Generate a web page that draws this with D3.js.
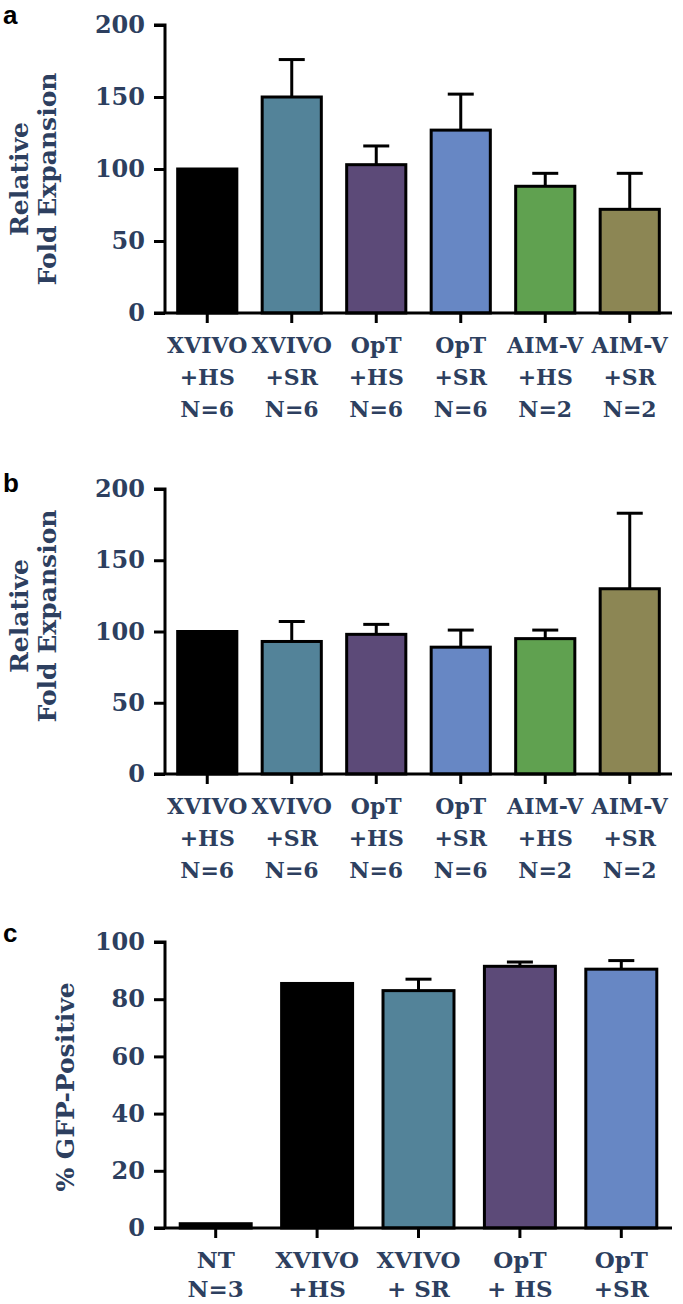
<!DOCTYPE html>
<html><head><meta charset="utf-8">
<script src="https://cdn.jsdelivr.net/npm/d3@7"></script>
<style>body{margin:0;background:#fff}svg{display:block}</style>
</head><body>
<script>
// ---- data ----
const catsAB = [["XVIVO","+HS","N=6"],["XVIVO","+SR","N=6"],["OpT","+HS","N=6"],["OpT","+SR","N=6"],["AIM-V","+HS","N=2"],["AIM-V","+SR","N=2"]];
const colorsAB = ["#000000","#538399","#5c4a78","#6787c4","#60a150","#8c8654"];
const valuesA = [100,150,103,127,88,72];
const errTopA = [100,176,116,152,97,97];
const valuesB = [100,93,98,89,95,130];
const errTopB = [100,107,105,101,101,183];
const catsC = [["NT","N=3"],["XVIVO","+HS"],["XVIVO","+ SR"],["OpT","+ HS"],["OpT","+SR"]];
const colorsC = ["#000000","#000000","#538399","#5c4a78","#6787c4"];
const valuesC = [1.5,85.5,83,91.5,90.5];
const errTopC = [1.5,85.5,87,93,93.5];
const ticksAB = [0,50,100,150,200];
const ticksC = [0,20,40,60,80,100];

const W=683,H=1304;
const navy="#2d3f5f";
const serif="'DejaVu Serif', serif";
const svg=d3.select("body").append("svg").attr("width",W).attr("height",H);

function panel(o){
  const g=svg.append("g");
  const x=d3.scaleBand().domain(d3.range(o.cats.length)).range([165,672]).paddingInner(o.pad).paddingOuter(o.pad/2);
  const y=d3.scaleLinear().domain([0,o.max]).range([o.y0,o.y1]);
  g.selectAll("rect.bar").data(o.values).join("rect")
    .attr("x",(d,i)=>x(i)).attr("width",x.bandwidth())
    .attr("y",d=>y(d)).attr("height",d=>y(0)-y(d))
    .attr("fill",(d,i)=>o.colors[i]).attr("stroke","#000").attr("stroke-width",3);
  o.err.forEach((e,i)=>{
    if(e<=o.values[i]+0.1) return;
    const cx=x(i)+x.bandwidth()/2;
    g.append("line").attr("x1",cx).attr("x2",cx).attr("y1",y(o.values[i])).attr("y2",y(e)).attr("stroke","#000").attr("stroke-width",3);
    g.append("line").attr("x1",cx-13).attr("x2",cx+13).attr("y1",y(e)).attr("y2",y(e)).attr("stroke","#000").attr("stroke-width",3);
  });
  const ya=g.append("g").attr("transform","translate(165,0)")
    .call(d3.axisLeft(y).tickValues(o.ticks).tickSize(11).tickPadding(9));
  ya.select(".domain").attr("stroke-width",3).attr("d",`M-11,${y(o.max)}H0V${y(0)}`);
  ya.selectAll(".tick line").attr("stroke-width",3);
  ya.selectAll(".tick text").attr("fill",navy).attr("font-family",serif).attr("font-weight","bold").attr("font-size",o.tickFs);
  const xa=g.append("g").attr("transform",`translate(0,${y(0)})`)
    .call(d3.axisBottom(x).tickSize(10).tickFormat(""));
  xa.select(".domain").attr("stroke-width",3).attr("d",`M154,0H672`);
  xa.selectAll(".tick line").attr("stroke-width",3);
  o.cats.forEach((lines,i)=>{
    const cx=x(i)+x.bandwidth()/2;
    lines.forEach((t,j)=>{
      g.append("text").attr("x",cx).attr("y",o.lab0+j*o.labStep).attr("text-anchor","middle")
        .attr("font-family",serif).attr("font-weight","bold").attr("font-size",o.catFs).attr("fill",navy).text(t);
    });
  });
  o.title.forEach((t,j)=>{
    g.append("text").attr("transform",`translate(${o.titleX[j]},${o.titleY}) rotate(-90)`)
      .attr("text-anchor","middle")
      .attr("font-family",serif).attr("font-weight","bold").attr("font-size",o.titleFs).attr("fill",navy).text(t);
  });
  g.append("text").attr("x",3).attr("y",o.letterY).attr("font-family","'Liberation Sans', Arial, sans-serif")
    .attr("font-weight","bold").attr("font-size",26).attr("fill","#000").text(o.letter);
}

panel({cats:catsAB,colors:colorsAB,values:valuesA,err:errTopA,max:200,ticks:ticksAB,y0:313,y1:25,pad:0.3,
  tickFs:24,catFs:22,lab0:353,labStep:32,title:["Relative","Fold Expansion"],titleX:[28,56],titleY:179,titleFs:25,letter:"a",letterY:24});
panel({cats:catsAB,colors:colorsAB,values:valuesB,err:errTopB,max:200,ticks:ticksAB,y0:774,y1:489,pad:0.3,
  tickFs:24,catFs:22,lab0:814,labStep:32,title:["Relative","Fold Expansion"],titleX:[28,56],titleY:616,titleFs:25,letter:"b",letterY:492});
panel({cats:catsC,colors:colorsC,values:valuesC,err:errTopC,max:100,ticks:ticksC,y0:1228,y1:942,pad:0.3,
  tickFs:24,catFs:23,lab0:1268,labStep:29,title:["% GFP-Positive"],titleX:[74],titleY:1087,titleFs:25,letter:"c",letterY:942});
</script>
</body></html>
